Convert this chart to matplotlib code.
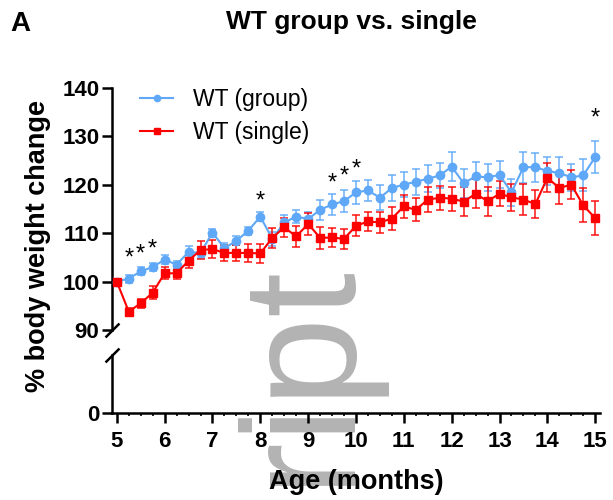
import matplotlib
matplotlib.use("Agg")
import matplotlib.pyplot as plt
from matplotlib.transforms import offset_copy

plt.rcParams['font.family'] = ['Liberation Sans', 'DejaVu Sans']

# ages in months (one point per week-ish)
age = [5.0, 5.25, 5.5, 5.75, 6.0, 6.25, 6.5, 6.75, 7.0, 7.25,
       7.5, 7.75, 8.0, 8.25, 8.5, 8.75, 9.0, 9.25, 9.5, 9.75,
       10.0, 10.25, 10.5, 10.75, 11.0, 11.25, 11.5, 11.75, 12.0, 12.25,
       12.5, 12.75, 13.0, 13.25, 13.5, 13.75, 14.0, 14.25, 14.5, 14.75,
       15.0]

wt_group = [100.0, 100.6, 102.1, 103.0, 104.5, 103.5, 106.1, 105.9, 110.1, 106.9,
            108.4, 110.5, 113.4, 108.8, 112.2, 113.4, 112.9, 114.8, 115.9, 116.6,
            118.4, 118.8, 117.3, 119.3, 120.0, 120.6, 121.2, 121.9, 123.7, 120.3,
            121.7, 121.5, 122.0, 118.4, 123.6, 123.6, 122.8, 122.4, 121.5, 121.9,
            125.7]
wt_group_sem = [0.3, 0.8, 0.8, 0.9, 0.9, 0.7, 1.2, 1.0, 0.8, 1.0,
                0.9, 0.8, 1.0, 1.5, 1.6, 1.4, 1.5, 2.0, 2.2, 2.3,
                2.3, 2.2, 2.6, 2.6, 2.6, 2.7, 2.8, 2.5, 3.0, 3.0,
                3.0, 2.8, 2.8, 2.8, 3.2, 3.0, 2.8, 3.2, 2.8, 3.3,
                3.3]

wt_single = [100.0, 93.8, 95.5, 97.7, 101.7, 101.7, 104.3, 106.5, 106.7, 105.9,
             105.9, 105.9, 105.8, 109.0, 111.2, 109.3, 111.9, 109.0, 109.1, 108.8,
             111.5, 112.4, 112.2, 113.0, 115.5, 114.8, 116.9, 117.3, 117.1, 116.5,
             118.1, 116.6, 118.1, 117.4, 116.9, 116.0, 121.4, 119.3, 120.0, 115.7,
             113.1]
wt_single_sem = [0.3, 0.8, 0.9, 1.3, 1.2, 1.2, 1.5, 1.8, 1.8, 1.6,
                 1.6, 1.8, 2.0, 2.0, 2.0, 2.2, 2.2, 2.2, 2.0, 2.0,
                 2.2, 2.0, 2.2, 2.3, 2.4, 2.4, 2.6, 2.5, 2.5, 3.0,
                 3.0, 3.0, 2.6, 2.8, 3.2, 2.8, 3.0, 3.2, 3.0, 3.5,
                 3.5]

star_x = [5.25, 5.5, 5.75, 8.0, 9.5, 9.75, 10.0, 15.0]
star_y = [106.0, 106.9, 107.9, 117.9, 121.5, 123.1, 124.4, 134.9]

blue = "#5ea8f7"
red = "#ff0000"

fig = plt.figure(figsize=(6.13, 5.0), dpi=100)
ax_top = fig.add_axes([0.1827, 0.34, 0.7961, 0.4846])
ax_bot = fig.add_axes([0.1827, 0.174, 0.7961, 0.116])

for ax in (ax_top, ax_bot):
    ax.patch.set_visible(False)
    ax.set_xlim(4.9, 15.1)
    ax.spines["right"].set_visible(False)
    ax.spines["top"].set_visible(False)
    ax.spines["left"].set_linewidth(1.8)
    ax.spines["bottom"].set_linewidth(1.8)
    ax.tick_params(axis="both", width=1.8, length=7, labelsize=16, pad=2)

# upper panel
ax_top.errorbar(age, wt_group, yerr=wt_group_sem, fmt="none", ecolor=blue,
                elinewidth=1.2, capsize=3, capthick=1.2, alpha=0.85, zorder=2)
ax_top.errorbar(age, wt_single, yerr=wt_single_sem, fmt="none", ecolor=red,
                elinewidth=1.2, capsize=3, capthick=1.2, alpha=0.85, zorder=2)
l1, = ax_top.plot(age, wt_group, color=blue, marker="o", ms=6, lw=1.5,
                  label="WT (group)", zorder=3)
l2, = ax_top.plot(age, wt_single, color=red, marker="s", ms=6, lw=1.5,
                  label="WT (single)", zorder=3)

ax_top.set_ylim(90, 140)
ax_top.set_yticks([90, 100, 110, 120, 130, 140])
ax_top.spines["bottom"].set_visible(False)
ax_top.tick_params(axis="x", bottom=False, labelbottom=False)
for lab in ax_top.get_yticklabels():
    lab.set_fontweight("bold")

# asterisks
star_trans = offset_copy(ax_top.transData, fig=fig, y=-9, units="points")
for sx, sy in zip(star_x, star_y):
    ax_top.text(sx, sy, "*", ha="center", va="baseline", fontsize=17,
                transform=star_trans, color="black")

leg = ax_top.legend(handles=[l1, l2], loc="upper left", frameon=False,
                    fontsize=16.5, handlelength=1.45, handletextpad=0.85,
                    labelspacing=0.45, markerscale=0.75,
                    bbox_to_anchor=(140 / 613, 1 - 88 / 500),
                    bbox_transform=fig.transFigure, borderaxespad=0,
                    borderpad=0)

# lower panel
ax_bot.set_ylim(0, 10)
ax_bot.set_yticks([0])
ax_bot.set_xticks([5, 6, 7, 8, 9, 10, 11, 12, 13, 14, 15])
ax_bot.set_xticks(age, minor=True)
ax_bot.tick_params(axis="x", which="minor", length=2.5, width=1.2)
ax_bot.tick_params(axis="x", which="major", pad=6)
for lab in ax_bot.get_yticklabels() + ax_bot.get_xticklabels():
    lab.set_fontweight("bold")

# break marks
brk = dict(marker=[(-1, -1), (1, 1)], markersize=10, linestyle="none",
           color="k", mec="k", mew=1.8, clip_on=False)
ax_top.plot([0], [0], transform=ax_top.transAxes, **brk)
ax_bot.plot([0], [1], transform=ax_bot.transAxes, **brk)

# texts
fig.text(20 / 613, 1 - 24 / 500, "A", fontsize=20, fontweight="bold",
         ha="center", va="center")
fig.text(351 / 613, 1 - 22 / 500, "WT group vs. single", fontsize=19,
         fontweight="bold", ha="center", va="center")
fig.text(38 / 613, 1 - 246 / 500, "% body weight change", fontsize=19.5,
         fontweight="bold", ha="center", va="center", rotation=90)
fig.text(356 / 613, 1 - 482 / 500, "Age (months)", fontsize=19.5,
         fontweight="bold", ha="center", va="center", zorder=5)

# watermark, sits behind the plot
fig.text(343 / 613, 1 - 258 / 500, "Manuscript", fontsize=116, color="#b3b3b3",
         rotation=90, rotation_mode="anchor", ha="right", va="baseline",
         zorder=-1)

fig.savefig("out.png", dpi=100)
